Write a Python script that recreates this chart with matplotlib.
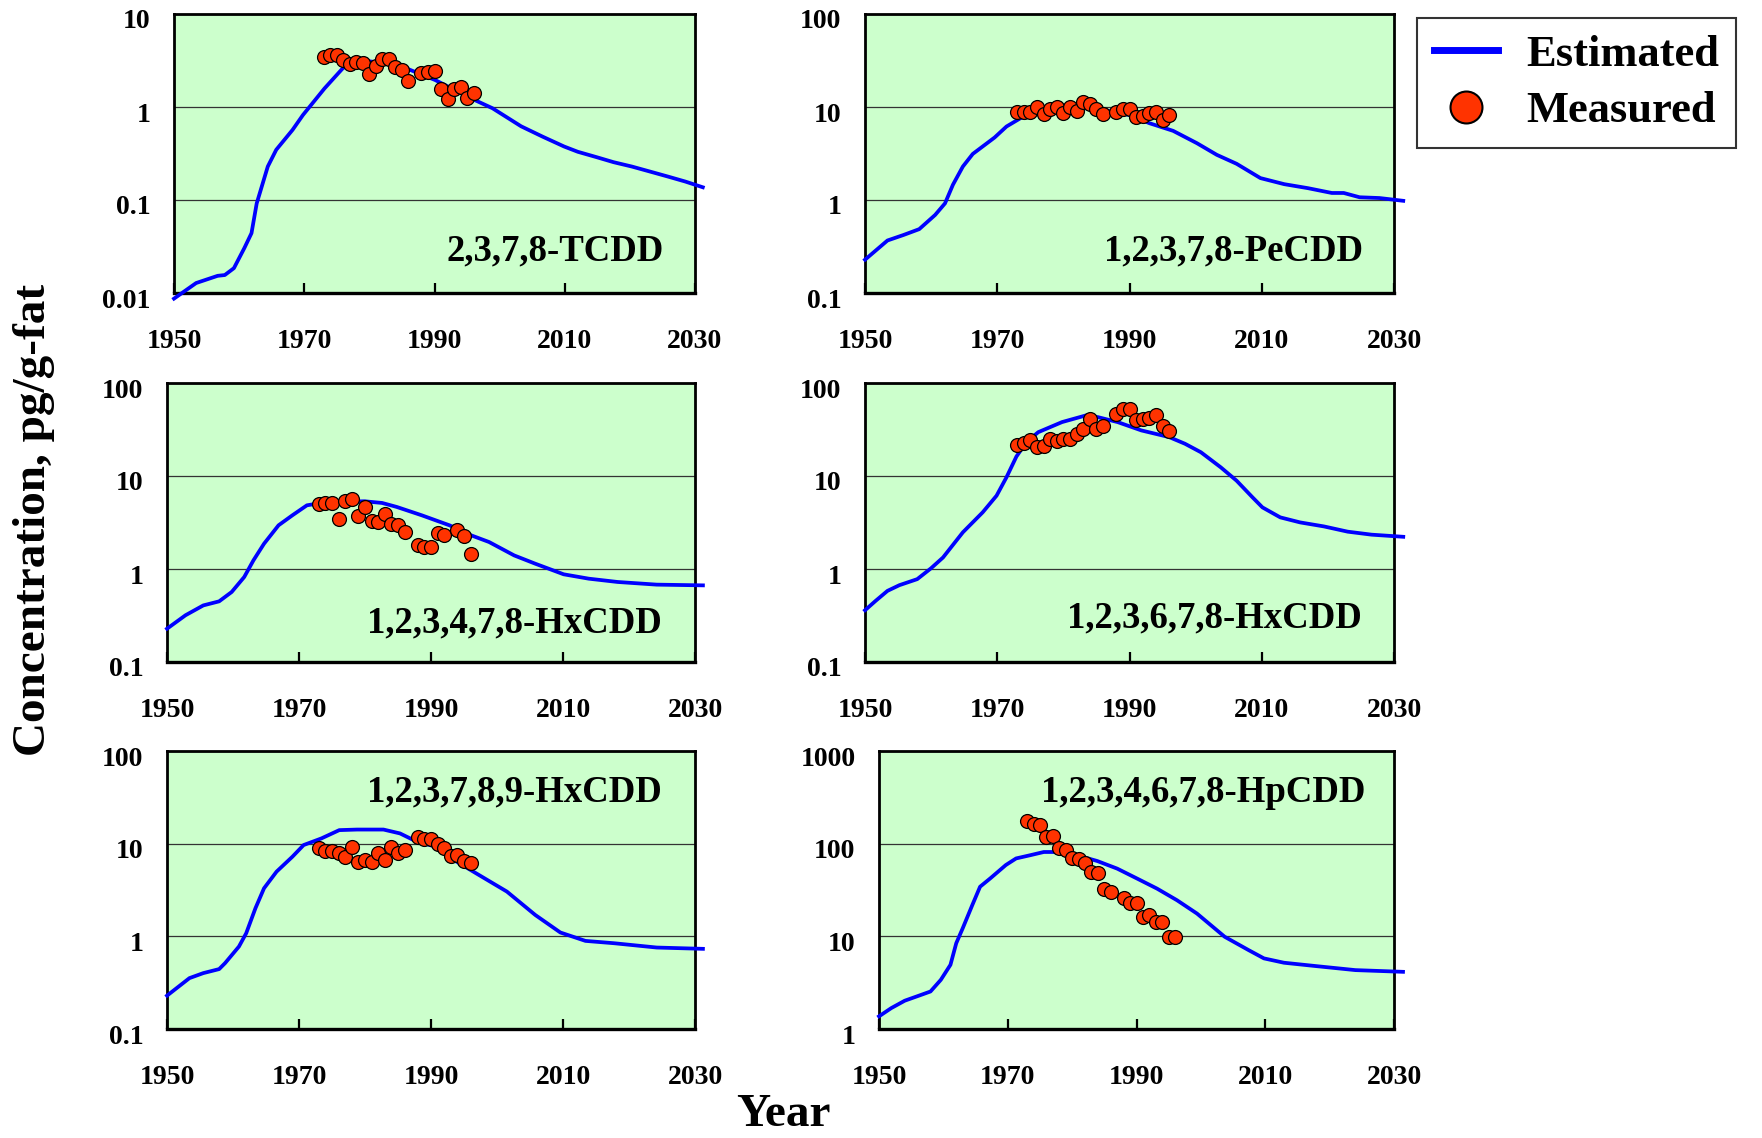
import numpy as np
import matplotlib
matplotlib.use("Agg")
import matplotlib.pyplot as plt
from matplotlib.ticker import FixedLocator, NullLocator, FuncFormatter
from matplotlib.lines import Line2D
from matplotlib.transforms import ScaledTranslation

plt.rcParams['font.family'] = ['Liberation Serif', 'DejaVu Serif']
plt.rcParams['font.weight'] = 'bold'

# ---- estimated (model) curves: year knots and concentrations, pg/g-fat ----
tcdd_est_years = [1950, 1953.4, 1956.7, 1957.8, 1959.2, 1960.8, 1961.9, 1962.7, 1964.4, 1965.7,
                  1968.2, 1969.8, 1973.1, 1975.9, 1977, 1980, 1983, 1985.7, 1990.1, 1995.6,
                  1998.9, 2003.3, 2006.6, 2009.9, 2012, 2014.8, 2017.5, 2020.3, 2023, 2025.8,
                  2028.5, 2031.2]
tcdd_est = [0.0087, 0.0128, 0.0153, 0.0156, 0.0185, 0.0304, 0.044, 0.092, 0.229, 0.347,
            0.567, 0.82, 1.58, 2.6, 3.0, 3.1, 2.9, 2.6, 1.95, 1.24,
            0.97, 0.62, 0.48, 0.376, 0.33, 0.29, 0.255, 0.229, 0.203, 0.179,
            0.158, 0.137]

pecdd_est_years = [1950, 1953.4, 1955.8, 1958.2, 1960.6, 1962.1, 1963.3, 1964.8, 1966.3, 1969.6,
                   1971.4, 1973.5, 1977, 1981, 1985, 1990, 1993, 1996.6, 2000.2, 2003.2,
                   2006.2, 2009.8, 2013.4, 2017, 2020.6, 2022.4, 2024.8, 2027.8, 2031.4]
pecdd_est = [0.228, 0.367, 0.42, 0.486, 0.69, 0.92, 1.46, 2.29, 3.13, 4.7,
             6.17, 7.57, 9.0, 9.8, 9.6, 8.2, 6.7, 5.54, 4.08, 3.06,
             2.45, 1.72, 1.48, 1.34, 1.19, 1.19, 1.07, 1.05, 0.98]

hx478_est_years = [1950, 1952.8, 1955.5, 1957.9, 1959.8, 1961.7, 1963.1, 1964.7, 1966.9, 1969,
                   1971.2, 1972.8, 1976, 1979.9, 1982.6, 1984.8, 1988.6, 1992.8, 1996.1, 1998.8,
                   2002.6, 2005.8, 2010.1, 2013.9, 2018.3, 2024.2, 2031.2]
hx478_est = [0.228, 0.318, 0.406, 0.449, 0.566, 0.82, 1.24, 1.87, 2.95, 3.78,
             4.84, 5.05, 5.25, 5.35, 5.13, 4.65, 3.78, 2.95, 2.3, 1.95,
             1.4, 1.14, 0.877, 0.787, 0.725, 0.679, 0.667]

hx678_est_years = [1950, 1951.6, 1953.4, 1955.2, 1957.9, 1960, 1961.8, 1964.8, 1967.8, 1969.9,
                   1971.4, 1972.9, 1974.4, 1976.2, 1979.8, 1983.4, 1985.2, 1988.2, 1991.8, 1996,
                   1998.4, 2000.8, 2003.8, 2006.2, 2008.6, 2010.1, 2012.8, 2015.8, 2019.4, 2023,
                   2026.6, 2031.4]
hx678_est = [0.36, 0.454, 0.582, 0.67, 0.778, 1.02, 1.33, 2.48, 4.07, 6.15,
             9.7, 16.2, 23.1, 29.6, 38, 44.8, 43, 38, 30.9, 26.2,
             22.2, 18, 12.4, 8.9, 5.9, 4.6, 3.59, 3.17, 2.87, 2.52,
             2.34, 2.22]

hx789_est_years = [1950, 1953.4, 1955.5, 1957.9, 1958.8, 1960.9, 1962, 1963.4, 1964.7, 1966.6,
                   1969, 1970.7, 1973.4, 1976.1, 1978.8, 1982.8, 1985.3, 1987.4, 1990.7, 1993.9,
                   1997.7, 2001.5, 2005.8, 2009.6, 2013.4, 2017.7, 2024.2, 2031.2]
hx789_est = [0.229, 0.354, 0.401, 0.443, 0.514, 0.776, 1.08, 2.01, 3.3, 4.99,
             7.23, 9.66, 11.4, 14, 14.2, 14.2, 12.9, 10.9, 9.25, 6.38,
             4.4, 3.04, 1.7, 1.1, 0.893, 0.843, 0.757, 0.733]

hpcdd_est_years = [1950, 1951.9, 1954, 1956.2, 1958, 1959.6, 1961.1, 1962, 1963, 1964.5,
                   1965.7, 1967.3, 1969.7, 1971.3, 1973.4, 1975.6, 1977.1, 1980.8, 1983.9, 1987,
                   1990.1, 1993.2, 1996.3, 1999.4, 2003.7, 2007.4, 2009.8, 2012.9, 2017.8, 2024,
                   2031.4]
hpcdd_est = [1.37, 1.68, 2.02, 2.29, 2.54, 3.39, 4.93, 8.43, 12.2, 21.8,
             34.3, 42.3, 58.8, 69.3, 74.8, 81.3, 81.3, 74.8, 65, 53.8,
             42, 32.7, 24.5, 17.6, 9.89, 7.11, 5.78, 5.19, 4.78, 4.32,
             4.14]

# ---- measured values ----
meas_years = [1973, 1974, 1975, 1976, 1977, 1978, 1979, 1980, 1981, 1982, 1983, 1984,
              1985, 1986, 1988, 1989, 1990, 1991, 1992, 1993, 1994, 1995, 1996]
hx478_meas_years = [1973, 1974, 1975, 1976, 1977, 1978, 1979, 1980, 1981, 1982, 1983, 1984,
                    1985, 1986, 1988, 1989, 1990, 1991, 1992, 1994, 1995, 1996]

tcdd_meas = [3.43, 3.63, 3.63, 3.2, 2.88, 3.07, 2.95, 2.26, 2.79, 3.26, 3.26, 2.72,
             2.5, 1.91, 2.34, 2.4, 2.44, 1.55, 1.21, 1.55, 1.66, 1.24, 1.43]
pecdd_meas = [8.93, 8.93, 8.8, 9.93, 8.44, 9.55, 9.93, 8.57, 10.1, 9.09, 11.2, 10.8,
              9.55, 8.36, 8.93, 9.46, 9.55, 7.89, 8.09, 8.71, 8.8, 7.26, 8.22]
hx478_meas = [4.95, 5.13, 5.17, 3.48, 5.35, 5.7, 3.72, 4.65, 3.28, 3.2, 3.94, 3.07,
              2.95, 2.5, 1.83, 1.73, 1.73, 2.46, 2.34, 2.65, 2.24, 1.46]
hx678_meas = [21.3, 22.7, 24.1, 20.4, 20.9, 24.7, 23.7, 24.7, 24.7, 28.4, 32.2, 41.3,
              32.2, 34.1, 46.8, 52.9, 52.9, 40.3, 41.3, 42.3, 45.6, 34.1, 30.4]
hx789_meas = [8.9, 8.32, 8.32, 7.97, 7.23, 9.1, 6.38, 6.65, 6.38, 7.94, 6.72, 9.2,
              7.94, 8.54, 11.9, 11.2, 11.2, 9.9, 8.9, 7.35, 7.53, 6.55, 6.13]
hpcdd_meas = [175, 162, 158, 118.5, 121, 90.7, 84.8, 70.6, 67.8, 62.4, 49.5, 48.7,
              32.7, 30.1, 26.2, 23.1, 23.1, 16.2, 17.1, 14.3, 14.3, 9.87, 9.87]

names = ['2,3,7,8-TCDD', '1,2,3,7,8-PeCDD', '1,2,3,4,7,8-HxCDD',
         '1,2,3,6,7,8-HxCDD', '1,2,3,7,8,9-HxCDD', '1,2,3,4,6,7,8-HpCDD']

panels = [
    (tcdd_est_years, tcdd_est, meas_years, tcdd_meas, (0.01, 10)),
    (pecdd_est_years, pecdd_est, meas_years, pecdd_meas, (0.1, 100)),
    (hx478_est_years, hx478_est, hx478_meas_years, hx478_meas, (0.1, 100)),
    (hx678_est_years, hx678_est, meas_years, hx678_meas, (0.1, 100)),
    (hx789_est_years, hx789_est, meas_years, hx789_meas, (0.1, 100)),
    (hpcdd_est_years, hpcdd_est, meas_years, hpcdd_meas, (1, 1000)),
]

# axes boxes in pixels: left, right, top, bottom
W, H = 1762, 1138
boxes = [(174, 695, 14, 293), (865, 1394, 14, 293),
         (167, 695, 383, 662), (865, 1394, 383, 662),
         (167, 695, 751, 1029), (879, 1394, 751, 1029)]
# panel label anchor (axes fraction, right aligned, baseline)
label_pos = [(0.94, 0.118), (0.941, 0.118), (0.9375, 0.104),
             (0.9386, 0.125), (0.9375, 0.817), (0.944, 0.817)]

fig = plt.figure(figsize=(W / 100, H / 100), dpi=100)

for i, (ey, ev, my, mv, ylim) in enumerate(panels):
    l, r, t, b = boxes[i]
    ax = fig.add_axes([l / W, 1 - b / H, (r - l) / W, (b - t) / H])
    ax.set_facecolor('#CCFFCC')
    ax.set_yscale('log')
    ax.set_xlim(1950, 2030)
    ax.set_ylim(*ylim)

    decades = [10.0 ** k for k in range(int(np.log10(ylim[0])), int(np.log10(ylim[1])) + 1)]
    ax.yaxis.set_major_locator(FixedLocator(decades))
    ax.yaxis.set_minor_locator(NullLocator())
    ax.yaxis.set_major_formatter(FuncFormatter(lambda v, p: '%g' % v))
    ax.xaxis.set_major_locator(FixedLocator([1950, 1970, 1990, 2010, 2030]))
    ax.yaxis.grid(True, color='#333333', lw=0.9)
    ax.set_axisbelow(True)

    ax.tick_params(axis='y', length=0, pad=17, labelsize=20)
    ax.tick_params(axis='x', direction='in', length=7, width=1.6, pad=26, labelsize=20)
    for lab in ax.get_yticklabels():
        lab.set_transform(lab.get_transform() + ScaledTranslation(0, -5 / 100, fig.dpi_scale_trans))

    for side in ['left', 'right', 'top', 'bottom']:
        ax.spines[side].set_linewidth(2.0)
    ax.spines['bottom'].set_linewidth(2.4)

    ax.plot(ey, ev, color='#0000FF', lw=2.7, clip_on=False, zorder=3)
    ax.plot(my, mv, 'o', ms=10, mfc='#FF3300', mec='black', mew=0.9, zorder=4)

    ax.text(label_pos[i][0], label_pos[i][1], names[i], transform=ax.transAxes,
            ha='right', va='baseline', fontsize=26.5, fontweight='bold')

fig.text(34 / W, 1 - 520 / H, 'Concentration, pg/g-fat', rotation=90,
         ha='center', va='center', fontsize=34, fontweight='bold')
fig.text(783 / W, 1 - 1126 / H, 'Year', ha='center', va='baseline',
         fontsize=34, fontweight='bold')

handles = [Line2D([], [], color='#0000FF', lw=5),
           Line2D([], [], ls='none', marker='o', ms=23, mfc='#FF3300', mec='black', mew=1.5)]
leg = fig.legend(handles, ['Estimated', 'Measured'], loc='upper left',
                 bbox_to_anchor=(1417 / W, 1 - 18 / H), fontsize=32, frameon=True,
                 fancybox=False, edgecolor='black', handlelength=1.45, handletextpad=0.62,
                 labelspacing=0.36, borderpad=0.38, borderaxespad=0)
leg.get_frame().set_linewidth(1.5)
for txt in leg.get_texts():
    txt.set_fontweight('bold')

fig.savefig('out.png', dpi=100)
